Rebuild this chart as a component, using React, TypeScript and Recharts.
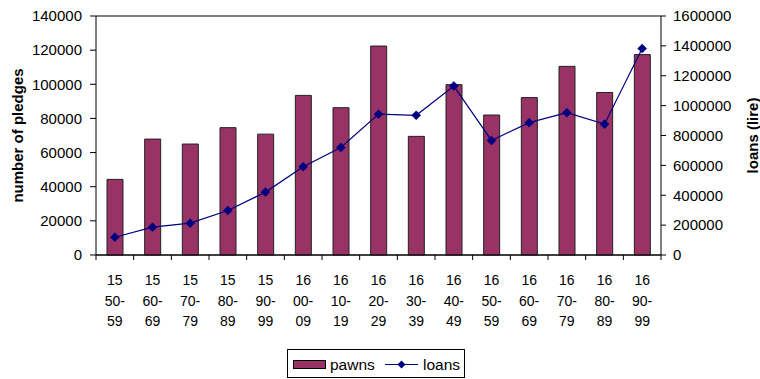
import React from 'react';
import {
  ComposedChart,
  Bar,
  Line,
  XAxis,
  YAxis,
  CartesianGrid,
  Legend,
} from 'recharts';

// Decades (century prefix + decade range)
const centuries = ['15', '15', '15', '15', '15', '16', '16', '16', '16', '16', '16', '16', '16', '16', '16'];
const decades = ['50-59', '60-69', '70-79', '80-89', '90-99', '00-09', '10-19', '20-29', '30-39', '40-49', '50-59', '60-69', '70-79', '80-89', '90-99'];

// Number of pledges (pawns) per decade
const pawns = [44300, 67900, 65000, 74600, 70800, 93500, 86300, 122400, 69500, 99800, 82000, 92200, 110500, 95200, 117400];

// Value of loans in lire per decade
const loans = [119000, 186000, 213000, 298000, 421000, 591000, 720000, 943000, 935000, 1131000, 767000, 886000, 953000, 876000, 1382000];

const leftTicks = [0, 20000, 40000, 60000, 80000, 100000, 120000, 140000];
const rightTicks = [0, 200000, 400000, 600000, 800000, 1000000, 1200000, 1400000, 1600000];

const data = decades.map((d, i) => ({
  key: `${centuries[i]} ${d}`,
  century: centuries[i],
  decade: d,
  pawns: pawns[i],
  loans: loans[i],
}));

const FONT = '"Liberation Sans", Arial, Helvetica, sans-serif';
const BAR_COLOR = '#993366';
const LINE_COLOR = '#000080';

const WIDTH = 760;
const HEIGHT = 379;
const LEFT_W = 96;
const RIGHT_W = 99;
const PLOT_W = WIDTH - LEFT_W - RIGHT_W;
const HALF_BAND = PLOT_W / decades.length / 2;

const CategoryTick = (props: any) => {
  const { x, y, payload, index } = props;
  const row = data[index] ?? data.find((r) => r.key === payload.value);
  const parts = row ? [row.century, row.decade.slice(0, 3), row.decade.slice(3)] : [];
  return (
    <g>
      <line x1={x - HALF_BAND} x2={x - HALF_BAND} y1={y} y2={y + 5} stroke="#000" />
      {index === decades.length - 1 && (
        <line x1={x + HALF_BAND} x2={x + HALF_BAND} y1={y} y2={y + 5} stroke="#000" />
      )}
      <text textAnchor="middle" fontFamily={FONT} fontSize={14} fill="#000">
        <tspan x={x} y={y + 30}>{parts[0]}</tspan>
        <tspan x={x} y={y + 51}>{parts[1]}</tspan>
        <tspan x={x} y={y + 71}>{parts[2]}</tspan>
      </text>
    </g>
  );
};

const Diamond = (props: any) => {
  const { cx, cy } = props;
  if (cx == null || cy == null) return null;
  const r = 4.5;
  return (
    <path
      d={`M${cx},${cy - r}L${cx + r},${cy}L${cx},${cy + r}L${cx - r},${cy}Z`}
      fill={LINE_COLOR}
      stroke={LINE_COLOR}
      strokeWidth={0.5}
    />
  );
};

const LegendBox = () => (
  <svg width={178} height={29} style={{ display: 'block' }}>
    <rect x={0.5} y={0.5} width={177} height={28} fill="#fff" stroke="#000" />
    <rect x={6.5} y={11.5} width={32} height={8} fill={BAR_COLOR} stroke="#000" />
    <text x={43} y={20.5} fontFamily={FONT} fontSize={15.5} fill="#000">pawns</text>
    <line x1={98} x2={131} y1={15.5} y2={15.5} stroke={LINE_COLOR} />
    <path d="M114.5,11.5L118.5,15.5L114.5,19.5L110.5,15.5Z" fill={LINE_COLOR} />
    <text x={136} y={20.5} fontFamily={FONT} fontSize={15.5} fill="#000">loans</text>
  </svg>
);

const LeftTitle = (props: any) => {
  const vb = props.viewBox || {};
  const cx = 17;
  const cy = (vb.y ?? 16) + (vb.height ?? 239) / 2;
  return (
    <text
      x={cx}
      y={cy}
      transform={`rotate(-90 ${cx} ${cy})`}
      textAnchor="middle"
      dominantBaseline="central"
      fontFamily={FONT}
      fontWeight="bold"
      fontSize={15}
      fill="#000"
    >
      number of pledges
    </text>
  );
};

const RightTitle = (props: any) => {
  const vb = props.viewBox || {};
  const cx = 752;
  const cy = (vb.y ?? 16) + (vb.height ?? 239) / 2;
  return (
    <text
      x={cx}
      y={cy}
      transform={`rotate(-90 ${cx} ${cy})`}
      textAnchor="middle"
      dominantBaseline="central"
      fontFamily={FONT}
      fontWeight="bold"
      fontSize={15}
      fill="#000"
    >
      loans (lire)
    </text>
  );
};

export default function App() {
  return (
    <div style={{ position: 'absolute', left: 0, top: 0, width: WIDTH, height: HEIGHT, background: '#fff' }}>
      <ComposedChart
        width={WIDTH}
        height={HEIGHT}
        data={data}
        margin={{ top: 16, right: 0, bottom: 0, left: 0 }}
        barSize={16}
      >
        <CartesianGrid horizontal vertical={false} stroke="#000" strokeWidth={1} />
        <XAxis
          dataKey="key"
          interval={0}
          height={124}
          tickLine={false}
          tickSize={0}
          tickMargin={0}
          axisLine={{ stroke: '#000' }}
          tick={<CategoryTick />}
        />
        <YAxis
          yAxisId="left"
          orientation="left"
          width={LEFT_W}
          domain={[0, 140000]}
          ticks={leftTicks}
          interval={0}
          axisLine={{ stroke: '#000' }}
          tickLine={{ stroke: '#000' }}
          tickSize={6}
          tickMargin={8}
          tick={{ fontFamily: FONT, fontSize: 15, fill: '#000' }}
          label={<LeftTitle />}
        />
        <YAxis
          yAxisId="right"
          orientation="right"
          width={RIGHT_W}
          domain={[0, 1600000]}
          ticks={rightTicks}
          interval={0}
          axisLine={{ stroke: '#000' }}
          tickLine={{ stroke: '#000' }}
          tickSize={5}
          tickMargin={7}
          tick={{ fontFamily: FONT, fontSize: 15, fill: '#000' }}
          label={<RightTitle />}
        />
        <Bar
          yAxisId="left"
          dataKey="pawns"
          name="pawns"
          fill={BAR_COLOR}
          stroke="#222"
          strokeWidth={1}
          isAnimationActive={false}
        />
        <Line
          yAxisId="right"
          dataKey="loans"
          name="loans"
          type="linear"
          stroke={LINE_COLOR}
          strokeWidth={1.2}
          dot={<Diamond />}
          activeDot={false}
          isAnimationActive={false}
        />
        <Legend
          layout="vertical"
          align="center"
          verticalAlign="middle"
          content={<LegendBox />}
          wrapperStyle={{ left: 287, top: 349, width: 178, height: 29, right: 'auto', bottom: 'auto' }}
        />
      </ComposedChart>
    </div>
  );
}
